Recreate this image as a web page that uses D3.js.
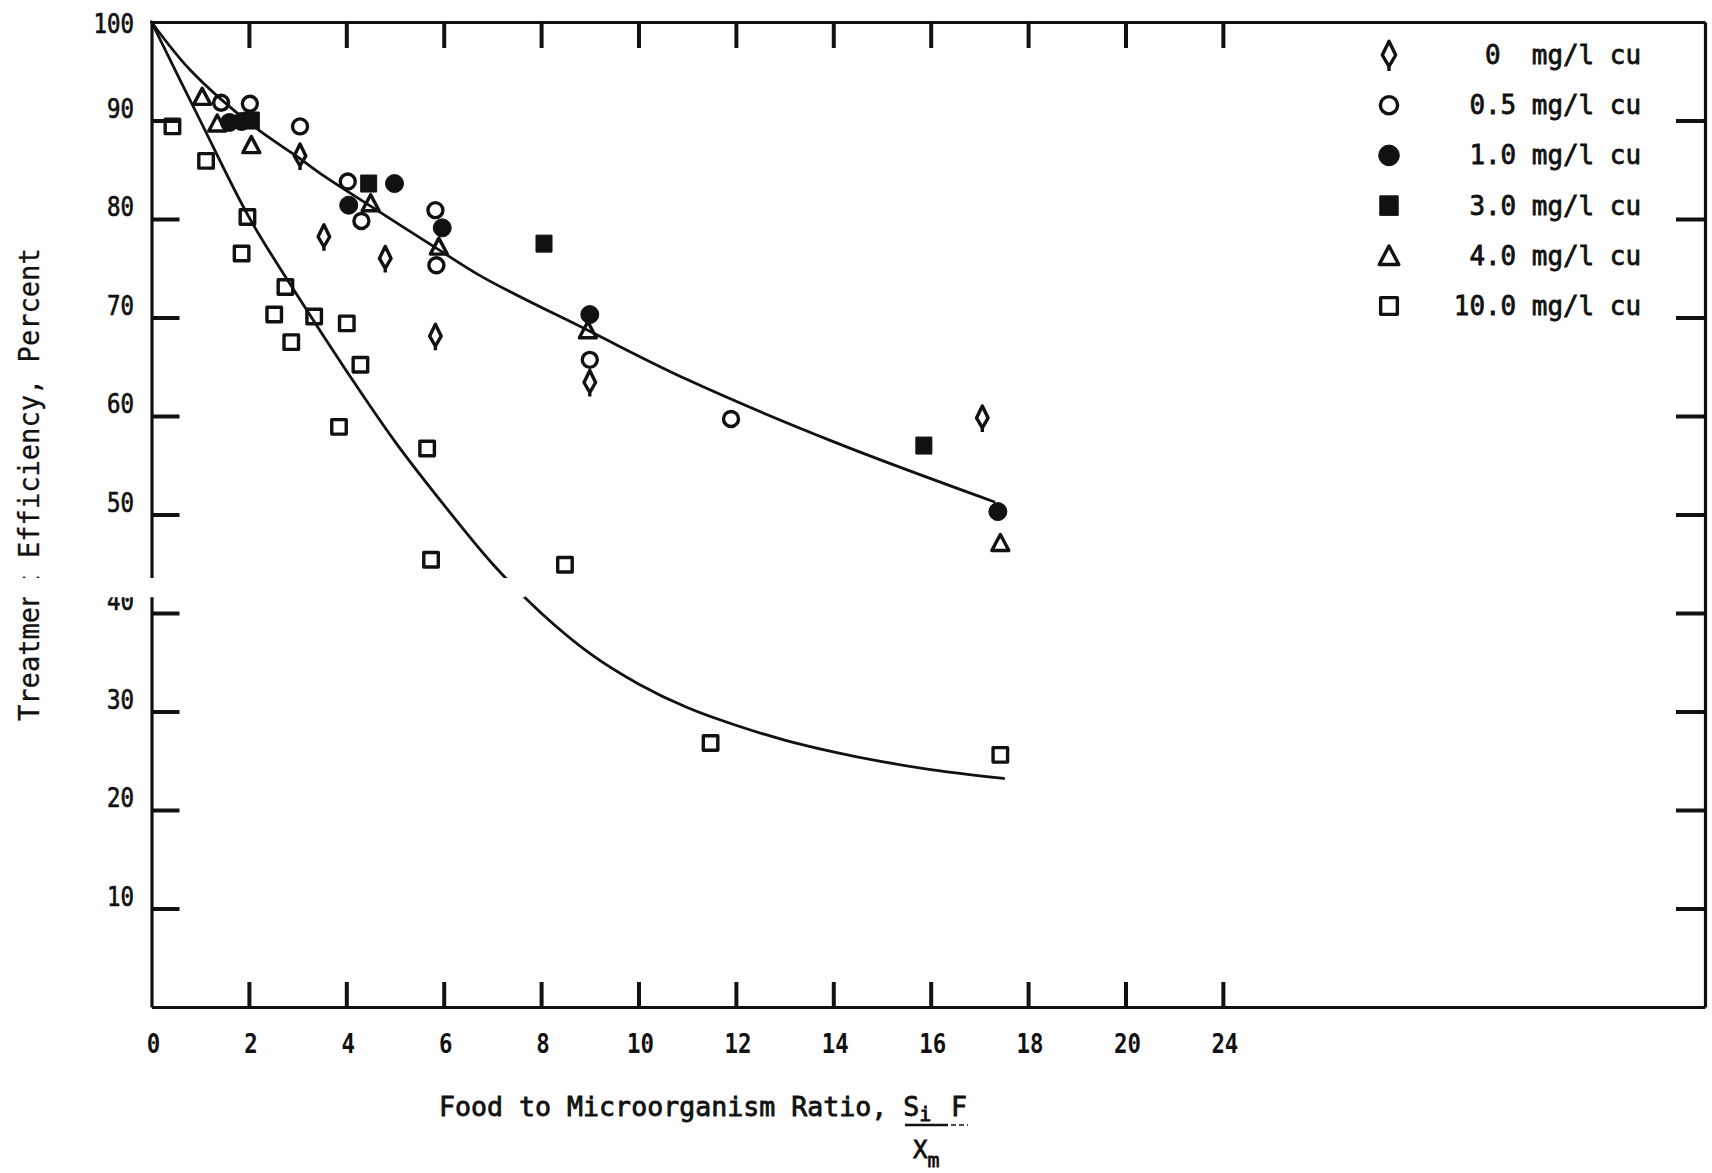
<!DOCTYPE html>
<html>
<head>
<meta charset="utf-8">
<script src="https://cdn.jsdelivr.net/npm/d3@7"></script>
<style>
  html, body { margin: 0; padding: 0; background: #fff; }
  svg { display: block; }
  text { font-family: "DejaVu Sans Mono", "Liberation Mono", monospace; fill: #111; }
</style>
</head>
<body>
<svg id="chart" width="1712" height="1173"></svg>
<script>
// Copper dose groups (mg/l cu) and the marker used for each
const copperLevels = ["0", "0.5", "1.0", "3.0", "4.0", "10.0"];
const markerKinds  = ["diamond", "circle", "dot", "block", "triangle", "square"];

// Observations per group: [F/M ratio, treatment efficiency %]
const obsCu0 = [[3.05, 86.4], [3.54, 78.2], [4.80, 76.0], [5.83, 68.1], [9.00, 63.4], [17.06, 59.8]];
const obsCu05 = [[1.43, 91.8], [2.02, 91.7], [3.05, 89.4], [4.03, 83.8], [4.31, 79.8], [5.83, 80.9],
                 [5.85, 75.3], [9.00, 65.7], [11.90, 59.7]];
const obsCu1 = [[1.60, 89.8], [1.85, 89.9], [4.05, 81.4], [4.99, 83.6], [5.97, 79.1], [9.00, 70.3], [17.38, 50.3]];
const obsCu3 = [[2.05, 90.0], [4.46, 83.6], [8.06, 77.5], [15.86, 57.0]];
const obsCu4 = [[1.04, 92.4], [1.35, 89.7], [2.05, 87.5], [4.50, 81.6], [5.90, 77.2], [8.96, 68.7], [17.43, 47.1]];
const obsCu10 = [[0.43, 89.4], [1.12, 85.9], [1.97, 80.2], [1.85, 76.5], [2.75, 73.1], [2.52, 70.3],
                 [3.34, 70.1], [2.87, 67.5], [4.01, 69.4], [4.29, 65.2], [3.85, 58.9], [5.66, 56.7],
                 [5.74, 45.4], [8.49, 44.9], [11.48, 26.8], [17.43, 25.6]];
const seriesPoints = [obsCu0, obsCu05, obsCu1, obsCu3, obsCu4, obsCu10];

// Hand-fitted trend curves: low-copper groups (upper) and 10 mg/l group (lower)
const upperCurve = [[0, 100], [0.8, 95.1], [2.1, 89.4], [3.0, 86.3], [3.5, 84.5], [4.5, 81.3], [5.8, 77.2],
                    [6.8, 74.1], [9.0, 68.6], [11.0, 63.7], [14.0, 57.4], [17.3, 51.3]];
const lowerCurve = [[0, 100], [1, 90.0], [2, 80.2], [3, 72.2], [4, 64.6], [5, 57.4], [6, 51.0], [7, 45.0],
                    [8, 40.0], [9, 35.9], [10, 32.8], [11, 30.4], [12, 28.6], [13, 27.1], [14, 25.9],
                    [15, 24.9], [16, 24.1], [17.5, 23.2]];

// Axis ticks and labels
const xTickValues = [0, 2, 4, 6, 8, 10, 12, 14, 16, 18, 20, 22];
const xTickLabels = ["0", "2", "4", "6", "8", "10", "12", "14", "16", "18", "20", "24"];
const yTickValues = [10, 20, 30, 40, 50, 60, 70, 80, 90];
const yTickLabels = [10, 20, 30, 40, 50, 60, 70, 80, 90, 100];

const ink = "#111";
const svg = d3.select("#chart");

const x = d3.scaleLinear().domain([0, 31.9]).range([151.5, 1705]);
const y = d3.scaleLinear().domain([0, 100]).range([1007, 22]);

// ---- frame and ticks (all four sides, ticks pointing inward) ----
function styleAxis(g) {
  g.attr("color", ink);
  g.select(".domain").attr("stroke-width", 3.2);
  g.selectAll(".tick line").attr("stroke-width", 4);
  g.selectAll(".tick text").remove();
}
svg.append("g").attr("transform", `translate(0,${y(0)})`)
  .call(d3.axisBottom(x).tickValues(xTickValues.slice(1)).tickSizeInner(-25).tickSizeOuter(0).tickFormat(""))
  .call(styleAxis);
svg.append("g").attr("transform", `translate(0,${y(100)})`)
  .call(d3.axisTop(x).tickValues(xTickValues.slice(1)).tickSizeInner(-26).tickSizeOuter(0).tickFormat(""))
  .call(styleAxis);
svg.append("g").attr("transform", `translate(${x(0)},0)`)
  .call(d3.axisLeft(y).tickValues(yTickValues).tickSizeInner(-28).tickSizeOuter(0).tickFormat(""))
  .call(styleAxis);
svg.append("g").attr("transform", `translate(${x(31.9)},0)`)
  .call(d3.axisRight(y).tickValues(yTickValues).tickSizeInner(-29).tickSizeOuter(0).tickFormat(""))
  .call(styleAxis);

// ---- tick labels ----
const tickFont = 27, tickPitch = 13.5;
svg.append("g").selectAll("text").data(xTickValues).join("text")
  .attr("x", d => x(d) + 2)
  .attr("y", 1053)
  .attr("text-anchor", "middle")
  .attr("font-size", tickFont)
  .attr("font-weight", "bold")
  .attr("textLength", (d, i) => xTickLabels[i].length * tickPitch)
  .attr("lengthAdjust", "spacingAndGlyphs")
  .text((d, i) => xTickLabels[i]);

svg.append("g").selectAll("text").data(yTickLabels).join("text")
  .attr("x", 134)
  .attr("y", d => Math.max(y(d) - 3, 33))
  .attr("text-anchor", "end")
  .attr("font-size", tickFont)
  .attr("textLength", d => String(d).length * tickPitch)
  .attr("lengthAdjust", "spacingAndGlyphs")
  .attr("stroke", ink).attr("stroke-width", 0.7)
  .text(d => d);

// ---- trend curves ----
const line = d3.line()
  .x(d => x(d[0])).y(d => y(d[1]))
  .curve(d3.curveCatmullRom.alpha(0.5));
svg.append("g").selectAll("path").data([upperCurve, lowerCurve]).join("path")
  .attr("d", line)
  .attr("fill", "none")
  .attr("stroke", ink)
  .attr("stroke-width", 2.8)
  .attr("stroke-linecap", "round");

// ---- marker shapes ----
function markerPath(kind, s) {
  const p = d3.path();
  if (kind === "diamond") {
    p.moveTo(0, -12 * s); p.lineTo(5.8 * s, 0); p.lineTo(0, 10 * s); p.lineTo(-5.8 * s, 0); p.closePath();
    p.moveTo(0, 10 * s); p.lineTo(0, 14 * s);
  } else if (kind === "circle") {
    p.arc(0, 0, 7.5 * s, 0, 2 * Math.PI);
  } else if (kind === "dot") {
    p.arc(0, 0, 9 * s, 0, 2 * Math.PI);
  } else if (kind === "block") {
    p.rect(-8 * s, -8.5 * s, 16 * s, 17 * s);
  } else if (kind === "triangle") {
    p.moveTo(0, -8.5 * s); p.lineTo(8.5 * s, 7.5 * s); p.lineTo(-8.5 * s, 7.5 * s); p.closePath();
  } else {
    p.rect(-7.25 * s, -7.25 * s, 14.5 * s, 14.5 * s);
  }
  return p.toString();
}
const filledKinds = new Set(["dot", "block"]);
function drawMarker(sel, kind, s) {
  sel.attr("d", markerPath(kind, s))
    .attr("fill", filledKinds.has(kind) ? ink : "none")
    .attr("stroke", ink)
    .attr("stroke-width", filledKinds.has(kind) ? 1 : 3.4)
    .attr("stroke-linejoin", "round");
}

// ---- observations ----
seriesPoints.forEach((pts, i) => {
  svg.append("g").selectAll("path").data(pts).join("path")
    .attr("transform", d => `translate(${x(d[0])},${y(d[1])})`)
    .call(drawMarker, markerKinds[i], 1);
});

// ---- legend ----
const legend = svg.append("g");
copperLevels.forEach((lvl, i) => {
  const ly = 55 + i * 50.2;
  legend.append("path")
    .attr("transform", `translate(1389,${ly})`)
    .call(drawMarker, markerKinds[i], 1.15);
  const label = lvl + (lvl.includes(".") ? " " : "  ") + "mg/l cu";
  legend.append("text")
    .attr("x", 1641)
    .attr("y", ly + 9)
    .attr("text-anchor", "end")
    .attr("font-size", 27)
    .attr("stroke", ink).attr("stroke-width", 0.8)
    .style("white-space", "pre")
    .attr("textLength", label.length * 15.6)
    .attr("lengthAdjust", "spacingAndGlyphs")
    .text(label);
});

// ---- axis titles ----
// x title: one line with the S-subscript-i F numerator, then the X-subscript-m denominator
const xTitle = svg.append("text")
  .attr("x", 439).attr("y", 1116)
  .attr("font-size", 26.6)
  .attr("stroke", ink).attr("stroke-width", 0.8)
  .style("white-space", "pre");
xTitle.append("tspan").text("Food to Microorganism Ratio, S");
xTitle.append("tspan").attr("font-size", 20).attr("dy", 5).text("i");
xTitle.append("tspan").attr("x", 951).attr("dy", -5).text("F");

svg.append("line")
  .attr("x1", 905).attr("x2", 948).attr("y1", 1125).attr("y2", 1125)
  .attr("stroke", ink).attr("stroke-width", 2.6);
svg.append("line")
  .attr("x1", 951).attr("x2", 968).attr("y1", 1125).attr("y2", 1125)
  .attr("stroke", ink).attr("stroke-width", 1.6).attr("stroke-dasharray", "5,3");

const xDenom = svg.append("text")
  .attr("x", 913).attr("y", 1158)
  .attr("font-size", 24)
  .attr("stroke", ink).attr("stroke-width", 0.8);
xDenom.append("tspan").text("X");
xDenom.append("tspan").attr("font-size", 20).attr("dy", 9).text("m");

svg.append("text")
  .attr("transform", "translate(39,721) rotate(-90)")
  .attr("font-size", 28)
  .attr("textLength", 29 * 16.3)
  .attr("lengthAdjust", "spacingAndGlyphs")
  .attr("stroke", ink).attr("stroke-width", 0.3)
  .text("Treatment Efficiency, Percent");

// ---- blank strip across the lower-left of the sheet ----
svg.append("rect")
  .attr("x", 0)
  .attr("y", y(43.55))
  .attr("width", x(7.67))
  .attr("height", y(41.6) - y(43.55))
  .attr("fill", "#fff");
</script>
</body>
</html>
